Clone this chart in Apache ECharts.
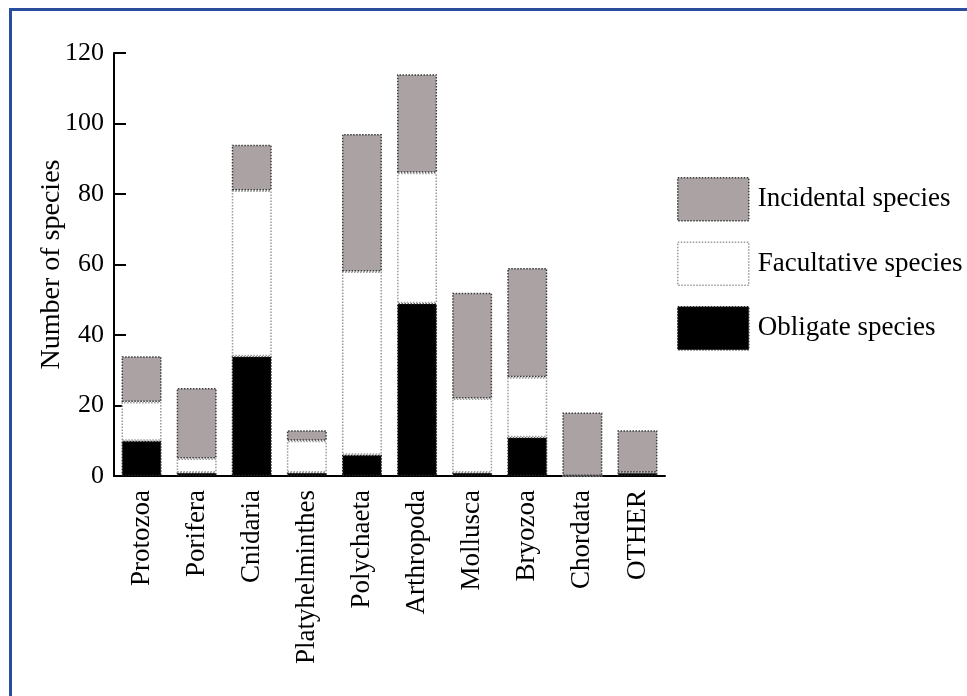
<!DOCTYPE html>
<html>
<head>
<meta charset="utf-8">
<script src="https://cdn.jsdelivr.net/npm/echarts@6/dist/echarts.min.js"></script>
<style>
  html, body { margin: 0; padding: 0; background: #ffffff; }
  #chart { width: 967px; height: 696px; }
</style>
</head>
<body>
<div id="chart"></div>
<script>
// Species counts per taxon, split by association type
const categories = ['Protozoa', 'Porifera', 'Cnidaria', 'Platyhelminthes', 'Polychaeta',
  'Arthropoda', 'Mollusca', 'Bryozoa', 'Chordata', 'OTHER'];
const obligate    = [10, 1, 34, 1, 6, 49, 1, 11, 0, 1];
const facultative = [11, 4, 47, 9, 52, 37, 21, 17, 0, 0];
const incidental  = [13, 20, 13, 3, 39, 28, 30, 31, 18, 12];
const yTicks = { min: 0, max: 120, interval: 20 };

const serif = '"Liberation Serif", "DejaVu Serif", serif';
const chart = echarts.init(document.getElementById('chart'), null, { renderer: 'canvas' });

const styles = {
  'Obligate species':    { color: '#000000', borderColor: '#222222' },
  'Facultative species': { color: '#ffffff', borderColor: '#9a9a9a' },
  'Incidental species':  { color: '#aba3a3', borderColor: '#3a3a3a' }
};

function itemStyleFor(name) {
  return Object.assign({ borderWidth: 1.5, borderType: 'dotted' }, styles[name]);
}

function barSeries(name, data) {
  return {
    name: name,
    type: 'bar',
    stack: 'total',
    data: data,
    barWidth: 40,
    itemStyle: itemStyleFor(name),
    emphasis: { disabled: true }
  };
}

chart.setOption({
  animation: false,
  backgroundColor: '#ffffff',
  textStyle: { fontFamily: serif, color: '#000' },
  graphic: [
    { type: 'line', shape: { x1: 9, y1: 9.5, x2: 967, y2: 9.5 }, style: { stroke: '#2b4d9e', lineWidth: 3 } },
    { type: 'line', shape: { x1: 10.5, y1: 8, x2: 10.5, y2: 696 }, style: { stroke: '#2b4d9e', lineWidth: 3 } }
  ],
  grid: { left: 114, right: 302, top: 53, bottom: 220 },
  legend: {
    orient: 'vertical',
    left: 677,
    top: 177,
    padding: 0,
    itemWidth: 71,
    itemHeight: 43,
    itemGap: 20,
    icon: 'rect',
    selectedMode: false,
    data: ['Incidental species', 'Facultative species', 'Obligate species'].map(function (n) {
      return { name: n, itemStyle: itemStyleFor(n) };
    }),
    textStyle: { fontFamily: serif, fontSize: 27, color: '#000', padding: [0, 0, 0, 4] }
  },
  xAxis: {
    type: 'category',
    data: categories,
    boundaryGap: true,
    axisLine: { lineStyle: { color: '#000', width: 2 } },
    axisTick: { show: false },
    axisLabel: { rotate: 90, margin: 14, fontFamily: serif, fontSize: 27, color: '#000' }
  },
  yAxis: {
    type: 'value',
    min: yTicks.min,
    max: yTicks.max,
    interval: yTicks.interval,
    name: 'Number of species',
    nameLocation: 'middle',
    nameRotate: 90,
    nameGap: 48,
    nameMoveOverlap: false,
    nameTextStyle: { fontFamily: serif, fontSize: 28, color: '#000' },
    splitLine: { show: false },
    axisLine: { show: true, lineStyle: { color: '#000', width: 2 } },
    axisTick: { show: true, inside: true, length: 12, lineStyle: { color: '#000', width: 2 } },
    axisLabel: { margin: 10, fontFamily: serif, fontSize: 26, color: '#000' }
  },
  series: [
    barSeries('Obligate species', obligate),
    barSeries('Facultative species', facultative),
    barSeries('Incidental species', incidental)
  ]
});
</script>
</body>
</html>
